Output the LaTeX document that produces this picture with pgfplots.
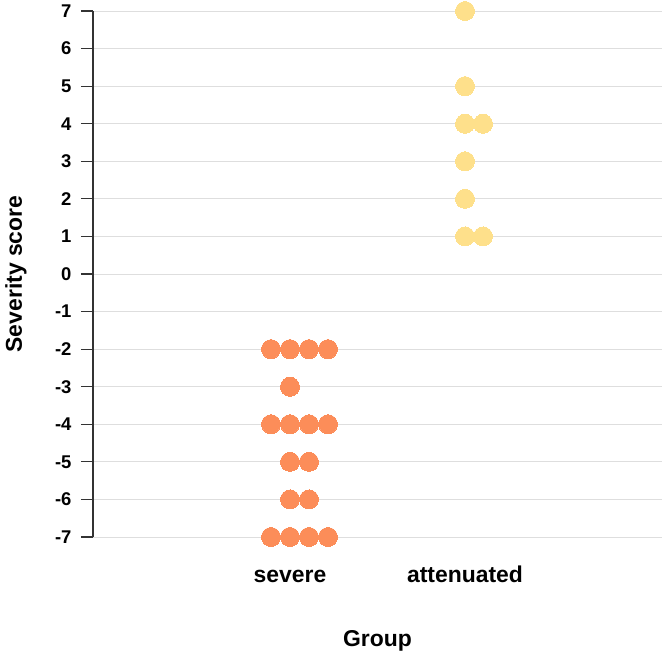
\documentclass[border=0pt]{standalone}
\usepackage{fontspec}
\setmainfont{Liberation Sans}
\usepackage{pgfplots}
\pgfplotsset{compat=1.18}
\definecolor{severecol}{RGB}{252,141,89}
\definecolor{attencol}{RGB}{254,224,139}
\definecolor{gridgray}{RGB}{222,222,222}
\definecolor{axisgray}{RGB}{51,51,51}
\begin{document}
\begin{tikzpicture}
\useasboundingbox (-93bp,-116bp) rectangle (569bp,537bp);
\begin{axis}[
  at={(0,0)}, anchor=south west,
  scale only axis, width=569bp, height=526bp,
  xmin=-197, xmax=372, ymin=-7, ymax=7,
  clip=false,
  axis y line*=left, axis x line*=bottom,
  x axis line style={draw=none},
  y axis line style={draw=axisgray, line width=1.2bp},
  xtick={0,175}, xticklabels={severe, attenuated},
  xtick style={draw=none},
  ytick={-7,-6,-5,-4,-3,-2,-1,0,1,2,3,4,5,6,7},
  yticklabels={-7,-6,-5,-4,-3,-2,-1,0,1,2,3,4,5,6,7},
  tick align=outside, major tick length=12bp,
  ytick style={draw=axisgray, line width=1.2bp},
  ymajorgrids, grid style={draw=gridgray, line width=0.9bp},
  yticklabel style={font=\fontsize{18.5}{22}\selectfont\bfseries, text=black, xshift=-6bp},
  xticklabel style={font=\fontsize{23}{27}\selectfont\bfseries, text=black, anchor=base, yshift=-33bp},
  xlabel={Group}, ylabel={Severity score},
  xlabel style={font=\fontsize{23}{27}\selectfont\bfseries, at={(axis description cs:0.5,-0.2091)}, anchor=base},
  ylabel style={font=\fontsize{23}{27}\selectfont\bfseries, at={(axis description cs:-0.1248,0.5)}, anchor=base},
]
% severe group (beeswarm offsets in the x direction)
\addplot[only marks, mark=*, mark size=9.5bp, color=severecol, mark options={fill=severecol, draw=severecol, line width=0pt}]
  coordinates {
    (-19,-2) (0,-2) (19,-2) (38,-2)
    (0,-3)
    (-19,-4) (0,-4) (19,-4) (38,-4)
    (0,-5) (19,-5)
    (0,-6) (19,-6)
    (-19,-7) (0,-7) (19,-7) (38,-7)
  };
% attenuated group
\addplot[only marks, mark=*, mark size=9.5bp, color=attencol, mark options={fill=attencol, draw=attencol, line width=0pt}]
  coordinates {
    (175,7)
    (175,5)
    (175,4) (193,4)
    (175,3)
    (175,2)
    (175,1) (193,1)
  };
\end{axis}
\end{tikzpicture}
\end{document}
